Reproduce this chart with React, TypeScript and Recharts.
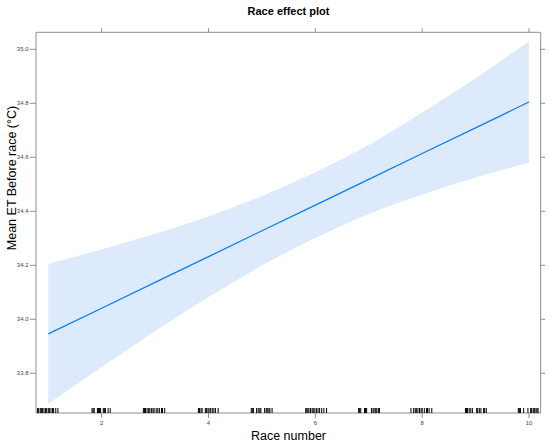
import React from "react";
import { ComposedChart, Area, Line, Scatter, XAxis, YAxis } from "recharts";

// Race number (effect evaluation points)
const raceNumbers = [1, 2, 3, 4, 5, 6, 7, 8, 9, 10];
// Fitted mean ET before race (°C)
const fitValues = [33.946, 34.041, 34.137, 34.232, 34.328, 34.423, 34.518, 34.614, 34.709, 34.805];
// Confidence band
const upperValues = [34.205, 34.259, 34.317, 34.381, 34.457, 34.545, 34.646, 34.766, 34.893, 35.029];
const lowerValues = [33.687, 33.823, 33.957, 34.083, 34.199, 34.301, 34.39, 34.462, 34.525, 34.581];

// Rug: jittered observed race numbers
const rugValues = [
  0.80, 0.82, 0.85, 0.87, 0.89, 0.92, 0.95, 0.97, 1.0, 1.02, 1.05, 1.08, 1.1, 1.14, 1.18,
  1.82, 1.84, 1.86, 1.92, 1.94, 1.96, 1.98, 2.03, 2.05, 2.07, 2.12, 2.16,
  2.78, 2.8, 2.82, 2.85, 2.88, 2.9, 2.93, 2.96, 2.98, 3.02, 3.05, 3.08, 3.12, 3.14, 3.18,
  3.81, 3.83, 3.86, 3.88, 3.94, 3.96, 3.99, 4.01, 4.04, 4.07, 4.1, 4.13, 4.18,
  4.8, 4.82, 4.84, 4.9, 4.93, 4.96, 4.98, 5.05, 5.08, 5.1, 5.13, 5.15, 5.19,
  5.82, 5.84, 5.86, 5.88, 5.91, 5.94, 5.96, 5.99, 6.02, 6.05, 6.08, 6.12, 6.16, 6.21,
  6.81, 6.83, 6.85, 6.92, 6.94, 6.96, 7.05, 7.08, 7.1, 7.13, 7.15, 7.18, 7.2,
  7.79, 7.84, 7.87, 7.89, 7.92, 7.95, 7.98, 8.0, 8.04, 8.08, 8.1, 8.13, 8.18,
  8.81, 8.83, 8.85, 8.88, 8.91, 8.94, 9.02, 9.04, 9.07, 9.1, 9.15, 9.17, 9.2,
  9.8, 9.82, 9.84, 9.9, 9.98, 10.03, 10.05, 10.08, 10.1, 10.13, 10.15, 10.17,
];

const xTicks = [2, 4, 6, 8, 10];
const yTicks = [33.8, 34.0, 34.2, 34.4, 34.6, 34.8, 35.0];
const xDomain = [0.77, 10.219];
const yDomain = [33.653, 35.063];

const bandData = raceNumbers.map((x, i) => ({
  x,
  fit: fitValues[i],
  range: [lowerValues[i], upperValues[i]],
}));
const rugData = rugValues.map((x) => ({ x, y: yDomain[0] }));

const FONT = '"Liberation Sans", Arial, Helvetica, sans-serif';
const FRAME = "#8f8f8f";
const tickStyle = { fontSize: 6, fill: "#444", fontFamily: FONT };

const RugMark = (props: any) => {
  const { cx, cy } = props;
  return <line x1={cx} x2={cx} y1={cy - 5} y2={cy} stroke="#000" strokeWidth={1} />;
};

export default function App() {
  return (
    <div style={{ position: "absolute", left: 0, top: 0, width: 550, height: 445, fontFamily: FONT, background: "#fff" }}>
      <div style={{ position: "absolute", left: 36, width: 505, top: 4, lineHeight: "14px", fontSize: 11, fontWeight: "bold", textAlign: "center", color: "#000" }}>
        Race effect plot
      </div>
      <ComposedChart
        width={550}
        height={445}
        margin={{ top: 27.3, right: 4.3, bottom: 12, left: 6 }}
      >
        <XAxis
          xAxisId="b"
          type="number"
          dataKey="x"
          domain={xDomain}
          ticks={xTicks}
          allowDataOverflow
          height={20}
          tickSize={5}
          tickMargin={3}
          stroke={FRAME}
          tick={tickStyle}
        />
        <XAxis
          xAxisId="t"
          orientation="top"
          type="number"
          dataKey="x"
          domain={xDomain}
          ticks={xTicks}
          allowDataOverflow
          height={5}
          tickSize={4}
          stroke={FRAME}
          tickFormatter={() => ""}
        />
        <YAxis
          yAxisId="l"
          type="number"
          domain={yDomain}
          ticks={yTicks}
          allowDataOverflow
          width={30}
          tickSize={6}
          tickMargin={1.5}
          stroke={FRAME}
          tick={tickStyle}
          tickFormatter={(v: number) => v.toFixed(1)}
        />
        <YAxis
          yAxisId="r"
          orientation="right"
          type="number"
          domain={yDomain}
          ticks={yTicks}
          allowDataOverflow
          width={5}
          tickSize={4.5}
          stroke={FRAME}
          tickFormatter={() => ""}
        />
        <Area
          xAxisId="b"
          yAxisId="l"
          data={bandData}
          dataKey="range"
          type="natural"
          stroke="none"
          fill="#dceafc"
          fillOpacity={1}
          isAnimationActive={false}
          activeDot={false}
        />
        <Line
          xAxisId="b"
          yAxisId="l"
          data={bandData}
          dataKey="fit"
          type="linear"
          stroke="#0a7ff0"
          strokeWidth={1.3}
          dot={false}
          activeDot={false}
          isAnimationActive={false}
        />
        <Scatter
          xAxisId="b"
          yAxisId="l"
          data={rugData}
          dataKey="y"
          shape={<RugMark />}
          isAnimationActive={false}
        />
      </ComposedChart>
      <div style={{ position: "absolute", left: 36, width: 505, top: 428, lineHeight: "16px", fontSize: 12.5, textAlign: "center", color: "#000" }}>
        Race number
      </div>
      <div
        style={{
          position: "absolute",
          left: 12 - 100,
          top: 178 - 8,
          width: 200,
          lineHeight: "16px",
          fontSize: 12.5,
          textAlign: "center",
          color: "#000",
          transform: "rotate(-90deg)",
          whiteSpace: "nowrap",
        }}
      >
        Mean ET Before race (°C)
      </div>
    </div>
  );
}
